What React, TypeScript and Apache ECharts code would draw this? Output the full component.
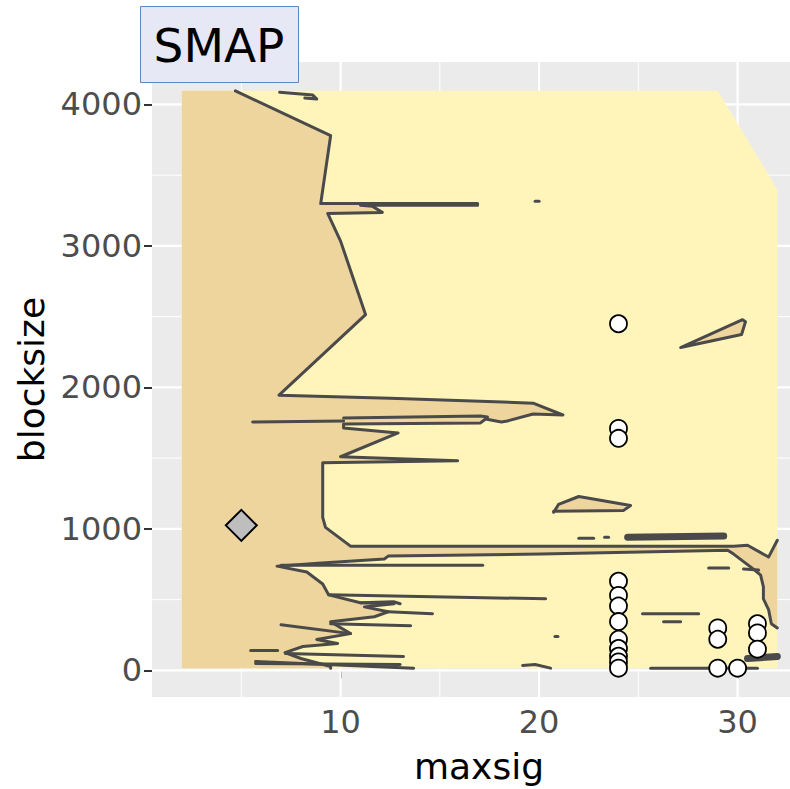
import React, { useEffect, useRef } from 'react';
import * as echarts from 'echarts';

// ---- axis ticks / grid ----
const xMajor = [10, 20, 30];
const xMinor = [5, 15, 25];
const yMajor = [0, 1000, 2000, 3000, 4000];
const yMinor = [500, 1500, 2500, 3500];

// ---- filled contour regions (maxsig, blocksize) ----
const hull = [[2, 16], [2, 4096], [29, 4096], [32, 3400], [32, 16]];

const tanMain = [
  [2, 16], [2, 4096], [4.7, 4096], [9.5, 3780], [9.0, 3300], [16.9, 3300], [16.9, 3287], [11.0, 3287],
  [11.6, 3280], [12.1, 3237], [9.35, 3230], [10.0, 3034], [11.26, 2514], [6.9, 1945], [12.5, 1924],
  [19.7, 1889], [21.2, 1805], [19.7, 1812], [18.4, 1763], [18.1, 1756], [17.3, 1777], [17.05, 1749],
  [10.15, 1742], [10.15, 1713], [12.9, 1678], [10.0, 1510], [15.9, 1482], [9.1, 1468], [9.1, 1081],
  [9.24, 1011], [10.5, 878], [29.8, 878], [30.5, 885], [31.56, 801], [32, 920], [32, 300], [31.7, 330],
  [31.56, 430], [31.3, 506], [31.3, 590], [31.16, 674], [30.8, 716], [29.8, 822], [29.5, 850],
  [20.1, 822], [12.4, 808], [12.2, 787], [8.85, 758], [6.8, 737], [8.3, 695], [9.1, 611], [9.4, 534],
  [11.0, 478], [12.7, 471], [11.2, 449], [12.4, 414], [11.7, 379], [9.5, 344], [10.5, 260], [8.8, 218],
  [9.85, 190], [8.1, 169], [7.2, 126], [8.0, 84], [9.5, 28], [9.5, 16],
];
const tanLens = [[20.73, 1117], [20.98, 1173], [22.0, 1229], [24.61, 1166], [24.26, 1131], [20.73, 1124]];
const tanTriangle = [[27.13, 2282], [30.25, 2479], [30.4, 2465], [30.2, 2374]];

// ---- contour lines ----
const contourUpper = [
  [4.7, 4096], [9.5, 3780], [9.0, 3300], [16.9, 3300], [16.9, 3287], [11.0, 3287], [11.6, 3280],
  [12.1, 3237], [9.35, 3230], [10.0, 3034], [11.26, 2514], [6.9, 1945], [12.5, 1924], [19.7, 1889],
  [21.2, 1805], [19.7, 1812], [18.4, 1763], [18.1, 1756], [17.3, 1777], [17.05, 1749], [10.15, 1742],
  [10.15, 1713], [12.9, 1678], [10.0, 1510], [15.9, 1482], [9.1, 1468], [9.1, 1081], [9.24, 1011],
  [10.5, 878], [29.8, 878], [30.5, 885], [31.56, 801], [32, 920],
];
const contourLower = [
  [32, 300], [31.7, 330], [31.56, 430], [31.3, 506], [31.3, 590], [31.16, 674], [30.8, 716],
  [29.8, 822], [29.5, 850], [20.1, 822], [12.4, 808], [12.2, 787], [8.85, 758], [6.8, 737], [8.3, 695],
  [9.1, 611], [9.4, 534], [11.0, 478], [12.7, 471], [11.2, 449], [12.4, 414], [11.7, 379], [9.5, 344],
  [10.5, 260], [8.8, 218], [9.85, 190], [8.1, 169], [7.2, 126], [8.0, 84], [9.5, 28], [9.5, 16],
];
const spikes = [
  [[6.93, 4087], [8.6, 4066], [8.8, 4038], [8.2, 4045]],
  [[19.8, 3315], [20.0, 3315]],
  [[5.57, 1756], [10.15, 1763]],
  [[10.15, 1784], [17.05, 1798], [17.4, 1791]],
  [[7.0, 744], [17.16, 744]],
  [[9.4, 534], [20.33, 506]],
  [[11.0, 478], [12.67, 485], [13.0, 471]],
  [[12.4, 414], [14.63, 400]],
  [[9.5, 330], [13.53, 316]],
  [[7.0, 323], [10.5, 260]],
  [[7.23, 119], [13.17, 98]],
  [[5.72, 63], [13.68, 16]],
  [[5.72, 49], [13.0, 42]],
  [[5.47, 140], [6.83, 140]],
  [[22.0, 934], [22.75, 934]],
  [[23.3, 941], [23.5, 941]],
  [[28.54, 723], [29.55, 723]],
  [[30.3, 716], [31.06, 709]],
  [[25.21, 400], [28.04, 400]],
  [[26.27, 344], [27.13, 344]],
  [[20.8, 239], [20.95, 239]],
  [[25.62, 16], [31.0, 16]],
  [[19.17, 35], [19.8, 42], [20.58, 16]],
];
const thickSpikes = [
  [[24.46, 941], [29.3, 950]],
  [[30.5, 84], [32, 98]],
];

// ---- points ----
const circleX = [24, 24, 24, 24, 24, 24, 24, 24, 24, 24, 24, 24, 29, 29, 29, 30, 31, 31, 31];
const circleY = [2450, 1710, 1640, 630, 530, 455, 345, 220, 155, 100, 60, 16, 300, 220, 16, 16, 330, 265, 150];
const diamondPoint = [[5, 1025]];

const TAN = '#EED59D';
const YELLOW = '#FFF5BB';
const LINE = '#4A4A4A';
const FONT = '"DejaVu Sans", sans-serif';

function shapeSeries(shapes: number[][][], kind: string, style: any, z: number) {
  return {
    type: 'custom',
    coordinateSystem: 'cartesian2d',
    silent: true,
    clip: true,
    z,
    data: shapes.map((s) => s[0]),
    renderItem: (params: any, api: any) => {
      const pts = shapes[params.dataIndex].map((p) => api.coord(p));
      return { type: kind, shape: { points: pts }, style };
    },
  };
}

function gridSeries(values: number[], vertical: boolean, width: number) {
  return {
    type: 'custom',
    coordinateSystem: 'cartesian2d',
    silent: true,
    z: 1,
    data: values.map((v) => (vertical ? [v, 0] : [10, v])),
    renderItem: (params: any, api: any) => {
      const c = params.coordSys;
      const v = values[params.dataIndex];
      if (vertical) {
        const px = api.coord([v, 0])[0];
        return { type: 'line', shape: { x1: px, y1: c.y, x2: px, y2: c.y + c.height }, style: { stroke: '#FFFFFF', lineWidth: width } };
      }
      const py = api.coord([10, v])[1];
      return { type: 'line', shape: { x1: c.x, y1: py, x2: c.x + c.width, y2: py }, style: { stroke: '#FFFFFF', lineWidth: width } };
    },
  };
}

export default function App() {
  const ref = useRef<HTMLDivElement>(null);
  useEffect(() => {
    if (!ref.current) return;
    const chart = echarts.init(ref.current, undefined, { renderer: 'svg' });
    const lineStyle = { stroke: LINE, lineWidth: 3, fill: 'none', lineJoin: 'round', lineCap: 'round' };
    chart.setOption({
      animation: false,
      backgroundColor: '#FFFFFF',
      grid: { left: 152, right: 0, top: 62, bottom: 88, show: true, backgroundColor: '#EBEBEB', borderWidth: 0 },
      xAxis: {
        type: 'value', min: 0.5, max: 32.64,
        axisLine: { show: false },
        splitLine: { show: false },
        axisTick: { show: true, customValues: xMajor, length: 8, lineStyle: { color: '#333333', width: 2 } },
        axisLabel: { customValues: xMajor, formatter: (v: number) => String(v), color: '#4D4D4D', fontSize: 32, fontFamily: FONT, margin: 9 },
        name: 'maxsig', nameLocation: 'middle', nameGap: 51,
        nameTextStyle: { color: '#000000', fontSize: 36, fontFamily: FONT, padding: [0, 0, 0, 16] },
      },
      yAxis: {
        type: 'value', min: -188, max: 4300,
        axisLine: { show: false },
        splitLine: { show: false },
        axisTick: { show: true, customValues: yMajor, length: 8, lineStyle: { color: '#333333', width: 2 } },
        axisLabel: { customValues: yMajor, formatter: (v: number) => String(v), color: '#4D4D4D', fontSize: 32, fontFamily: FONT, margin: 10 },
        name: 'blocksize', nameLocation: 'middle', nameGap: 100,
        nameTextStyle: { color: '#000000', fontSize: 36, fontFamily: FONT },
      },
      graphic: [
        { type: 'rect', z: 100, shape: { x: 140.5, y: 6.5, width: 158, height: 76 }, style: { fill: '#E6E8F5', stroke: '#5A87C8', lineWidth: 1 } },
        { type: 'text', z: 101, x: 219, y: 45, style: { text: 'SMAP', fontSize: 47, fontFamily: FONT, fill: '#000000', align: 'center', verticalAlign: 'middle' } },
      ],
      series: [
        gridSeries(xMinor, true, 1),
        gridSeries(yMinor, false, 1),
        gridSeries(xMajor, true, 2.2),
        gridSeries(yMajor, false, 2.2),
        shapeSeries([hull], 'polygon', { fill: YELLOW }, 2),
        shapeSeries([tanMain], 'polygon', { fill: TAN }, 3),
        shapeSeries([tanLens, tanTriangle], 'polygon', { fill: TAN, stroke: LINE, lineWidth: 3, lineJoin: 'round' }, 4),
        shapeSeries([contourUpper, contourLower, ...spikes], 'polyline', lineStyle, 5),
        shapeSeries(thickSpikes, 'polyline', { ...lineStyle, lineWidth: 7 }, 5),
        {
          type: 'scatter', z: 6, silent: true,
          data: circleX.map((x, i) => [x, circleY[i]]),
          symbol: 'circle', symbolSize: 17,
          itemStyle: { color: '#FFFFFF', borderColor: '#000000', borderWidth: 1.8, opacity: 1 },
        },
        {
          type: 'scatter', z: 6, silent: true,
          data: diamondPoint,
          symbol: 'diamond', symbolSize: 31,
          itemStyle: { color: '#BEBEBE', borderColor: '#000000', borderWidth: 2, opacity: 1 },
        },
      ],
    });
    return () => chart.dispose();
  }, []);
  return <div ref={ref} style={{ position: 'absolute', left: 0, top: 0, width: 790, height: 789 }} />;
}
